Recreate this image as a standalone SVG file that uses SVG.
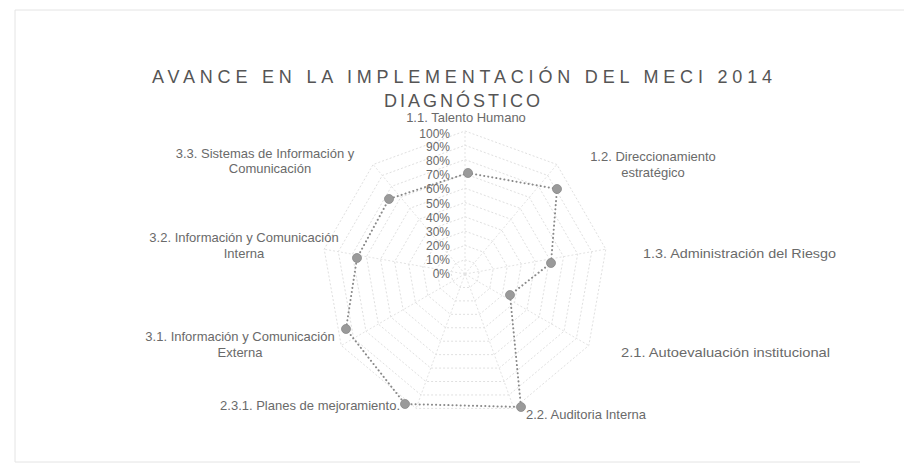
<svg xmlns="http://www.w3.org/2000/svg" xmlns:xlink="http://www.w3.org/1999/xlink" width="904" height="471" viewBox="0 0 904 471">
<style>
.title{font-family:"Liberation Sans",Arial,sans-serif;font-size:18px;fill:#555;text-anchor:middle}
.lbl{font-family:"Liberation Sans",Arial,sans-serif;font-size:13px;fill:#6a6a6a}
.tick{font-family:"Liberation Sans",Arial,sans-serif;font-size:12px;fill:#6a6a6a;text-anchor:end}
.grid{fill:none;stroke:#e0e0e0;stroke-width:1;stroke-dasharray:2 2;vector-effect:non-scaling-stroke}
.spoke{stroke:#e3e3e3;stroke-width:1;stroke-dasharray:2 2}
.series{fill:none;stroke:#8a8a8a;stroke-width:2;stroke-linecap:round;stroke-dasharray:0.1 4}
.pt{fill:#9a9a9a;stroke:#8a8a8a;stroke-width:0.8}
</style>
<defs>
<polygon id="ring" class="grid" points="0,-14.3 9.19,-10.95 14.08,-2.48 12.38,7.15 4.89,13.44 -4.89,13.44 -12.38,7.15 -14.08,-2.48 -9.19,-10.95"/>
</defs>
<rect x="0" y="0" width="904" height="471" fill="#fff"/>
<path d="M15,462 V10 H904 M15,462 H860" fill="none" stroke="#e4e4e4" stroke-width="1"/>
<g id="title">
<text class="title" x="462" y="83" textLength="620" lengthAdjust="spacing">AVANCE EN LA IMPLEMENTACIÓN DEL MECI 2014</text>
<text class="title" x="462" y="107" textLength="156" lengthAdjust="spacing">DIAGNÓSTICO</text>
</g>
<g id="grid">
<use xlink:href="#ring" transform="translate(465 274) scale(1)"/>
<use xlink:href="#ring" transform="translate(465 274) scale(2)"/>
<use xlink:href="#ring" transform="translate(465 274) scale(3)"/>
<use xlink:href="#ring" transform="translate(465 274) scale(4)"/>
<use xlink:href="#ring" transform="translate(465 274) scale(5)"/>
<use xlink:href="#ring" transform="translate(465 274) scale(6)"/>
<use xlink:href="#ring" transform="translate(465 274) scale(7)"/>
<use xlink:href="#ring" transform="translate(465 274) scale(8)"/>
<use xlink:href="#ring" transform="translate(465 274) scale(9)"/>
<use xlink:href="#ring" transform="translate(465 274) scale(10)"/>
<g transform="translate(465 274)">
<line class="spoke" x1="0" y1="0" x2="0" y2="-143"/>
<line class="spoke" x1="0" y1="0" x2="91.9" y2="-109.5"/>
<line class="spoke" x1="0" y1="0" x2="140.8" y2="-24.8"/>
<line class="spoke" x1="0" y1="0" x2="123.8" y2="71.5"/>
<line class="spoke" x1="0" y1="0" x2="48.9" y2="134.4"/>
<line class="spoke" x1="0" y1="0" x2="-48.9" y2="134.4"/>
<line class="spoke" x1="0" y1="0" x2="-123.8" y2="71.5"/>
<line class="spoke" x1="0" y1="0" x2="-140.8" y2="-24.8"/>
<line class="spoke" x1="0" y1="0" x2="-91.9" y2="-109.5"/>
</g>
</g>
<g id="axis-ticks">
<text class="tick" x="450" y="278">0%</text>
<text class="tick" x="450" y="263.9">10%</text>
<text class="tick" x="450" y="249.8">20%</text>
<text class="tick" x="450" y="235.7">30%</text>
<text class="tick" x="450" y="221.6">40%</text>
<text class="tick" x="450" y="207.5">50%</text>
<text class="tick" x="450" y="193.4">60%</text>
<text class="tick" x="450" y="179.3">70%</text>
<text class="tick" x="450" y="165.2">80%</text>
<text class="tick" x="450" y="151.1">90%</text>
<text class="tick" x="450" y="137.5">100%</text>
</g>
<g id="connectors">
<polygon class="series" points="468,173 557,189 551,263 510,295 521,407 405,404 346,329 357,258 389,199"/>
</g>
<g id="n11"><circle class="pt" cx="468" cy="173" r="4.5"/><text class="lbl" x="466" y="122" text-anchor="middle">1.1. Talento Humano</text></g>
<g id="n12"><circle class="pt" cx="557" cy="189" r="4.5"/><text class="lbl" x="653" y="161" text-anchor="middle">1.2. Direccionamiento</text><text class="lbl" x="653" y="177" text-anchor="middle">estratégico</text></g>
<g id="n13"><circle class="pt" cx="551" cy="263" r="4.5"/><text class="lbl" x="643" y="258" font-size="14" textLength="193" lengthAdjust="spacingAndGlyphs">1.3. Administración del Riesgo</text></g>
<g id="n21"><circle class="pt" cx="510" cy="295" r="4.5"/><text class="lbl" x="621" y="357" font-size="14" textLength="209" lengthAdjust="spacingAndGlyphs">2.1. Autoevaluación institucional</text></g>
<g id="n22"><circle class="pt" cx="521" cy="407" r="4.5"/><text class="lbl" x="526" y="419">2.2. Auditoria Interna</text></g>
<g id="n231"><circle class="pt" cx="405" cy="404" r="4.5"/><text class="lbl" x="400" y="410" text-anchor="end">2.3.1. Planes de mejoramiento.</text></g>
<g id="n31"><circle class="pt" cx="346" cy="329" r="4.5"/><text class="lbl" x="240" y="341" text-anchor="middle">3.1. Información y Comunicación</text><text class="lbl" x="240" y="357" text-anchor="middle">Externa</text></g>
<g id="n32"><circle class="pt" cx="357" cy="258" r="4.5"/><text class="lbl" x="244" y="242" text-anchor="middle">3.2. Información y Comunicación</text><text class="lbl" x="244" y="258" text-anchor="middle">Interna</text></g>
<g id="n33"><circle class="pt" cx="389" cy="199" r="4.5"/><text class="lbl" x="265" y="158" text-anchor="middle">3.3. Sistemas de Información y</text><text class="lbl" x="270" y="173" text-anchor="middle">Comunicación</text></g>
</svg>
